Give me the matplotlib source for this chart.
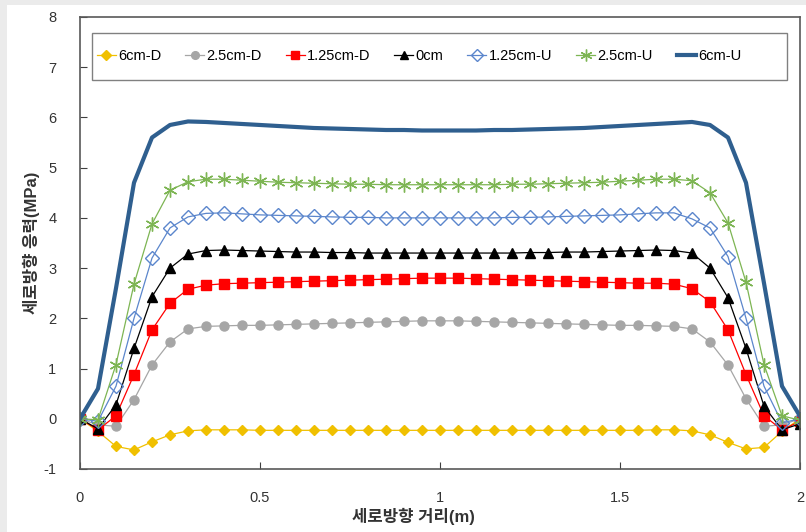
import matplotlib.pyplot as plt
from matplotlib.patches import Rectangle
import numpy as np

plt.rcParams['font.family'] = ['Liberation Sans', 'Noto Sans CJK KR', 'DejaVu Sans']
plt.rcParams['axes.unicode_minus'] = False

# distance (m), 0 .. 2 in 0.05 steps
dist = [0.0, 0.05, 0.1, 0.15, 0.2, 0.25, 0.3, 0.35, 0.4, 0.45, 0.5,
        0.55, 0.6, 0.65, 0.7, 0.75, 0.8, 0.85, 0.9, 0.95, 1.0,
        1.05, 1.1, 1.15, 1.2, 1.25, 1.3, 1.35, 1.4, 1.45, 1.5,
        1.55, 1.6, 1.65, 1.7, 1.75, 1.8, 1.85, 1.9, 1.95, 2.0]

d6 = [0.0, -0.25, -0.55, -0.62, -0.46, -0.32, -0.24, -0.22, -0.22, -0.22, -0.23,
      -0.23, -0.23, -0.23, -0.23, -0.23, -0.23, -0.23, -0.23, -0.23, -0.23,
      -0.23, -0.23, -0.23, -0.23, -0.23, -0.23, -0.23, -0.23, -0.23, -0.23,
      -0.23, -0.22, -0.22, -0.24, -0.32, -0.47, -0.6, -0.57, -0.25, 0.0]
d25 = [0.0, -0.12, -0.15, 0.38, 1.07, 1.53, 1.79, 1.84, 1.85, 1.86, 1.86,
       1.87, 1.88, 1.89, 1.9, 1.91, 1.92, 1.93, 1.94, 1.95, 1.95,
       1.95, 1.94, 1.93, 1.92, 1.91, 1.9, 1.89, 1.88, 1.87, 1.86,
       1.86, 1.85, 1.84, 1.79, 1.53, 1.07, 0.4, -0.15, -0.12, 0.0]
d125 = [0.0, -0.22, 0.06, 0.88, 1.77, 2.3, 2.58, 2.66, 2.69, 2.7, 2.71,
        2.72, 2.73, 2.74, 2.75, 2.76, 2.77, 2.78, 2.79, 2.8, 2.8,
        2.8, 2.79, 2.78, 2.77, 2.76, 2.75, 2.74, 2.73, 2.72, 2.71,
        2.7, 2.7, 2.68, 2.59, 2.33, 1.77, 0.88, 0.06, -0.22, -0.05]
c0 = [0.0, -0.2, 0.28, 1.4, 2.43, 3.0, 3.28, 3.35, 3.36, 3.35, 3.34,
      3.33, 3.32, 3.32, 3.31, 3.31, 3.3, 3.3, 3.3, 3.3, 3.3,
      3.3, 3.3, 3.3, 3.3, 3.31, 3.31, 3.32, 3.32, 3.33, 3.34,
      3.35, 3.36, 3.35, 3.3, 3.0, 2.41, 1.4, 0.25, -0.22, -0.1]
u125 = [0.0, -0.05, 0.65, 2.0, 3.2, 3.8, 4.02, 4.09, 4.1, 4.08, 4.06,
        4.05, 4.04, 4.03, 4.02, 4.01, 4.01, 4.0, 4.0, 4.0, 4.0,
        4.0, 4.0, 4.0, 4.01, 4.01, 4.02, 4.03, 4.04, 4.05, 4.06,
        4.08, 4.1, 4.1, 3.98, 3.8, 3.23, 2.0, 0.65, -0.08, 0.0]
u25 = [0.0, -0.02, 1.08, 2.68, 3.88, 4.55, 4.72, 4.77, 4.77, 4.75, 4.73,
       4.71, 4.7, 4.69, 4.68, 4.67, 4.67, 4.66, 4.66, 4.66, 4.66,
       4.66, 4.66, 4.66, 4.67, 4.67, 4.68, 4.69, 4.7, 4.71, 4.73,
       4.75, 4.77, 4.77, 4.74, 4.5, 3.9, 2.72, 1.08, 0.06, -0.03]
u6 = [0.0, 0.6, 2.6, 4.7, 5.6, 5.85, 5.92, 5.91, 5.89, 5.87, 5.85,
      5.83, 5.81, 5.79, 5.78, 5.77, 5.76, 5.75, 5.75, 5.74, 5.74,
      5.74, 5.74, 5.75, 5.75, 5.76, 5.77, 5.78, 5.79, 5.81, 5.83,
      5.85, 5.87, 5.89, 5.91, 5.85, 5.6, 4.7, 2.7, 0.65, 0.05]

fig = plt.figure(figsize=(8.06, 5.32), dpi=100, facecolor='#ebebeb')
fig.add_artist(Rectangle((7 / 806, 0), 1, 1 - 5 / 532, transform=fig.transFigure,
                         facecolor='white', edgecolor='none', zorder=-10))
ax = fig.add_axes([80 / 806, 1 - 469 / 532, 720 / 806, 452 / 532])

lw = 0.9
ax.plot(dist, d6, color='#F0C000', lw=lw, marker='D', ms=5.5, label='6cm-D')
ax.plot(dist, d25, color='#A6A6A6', lw=lw, marker='o', ms=6.5, label='2.5cm-D')
ax.plot(dist, d125, color='#FF0000', lw=lw, marker='s', ms=6.5, label='1.25cm-D')
ax.plot(dist, c0, color='#000000', lw=lw, marker='^', ms=7, label='0cm')
ax.plot(dist, u125, color='#5B86CC', lw=lw, marker='D', ms=7, mfc='none', mew=1.0,
        label='1.25cm-U')
ax.plot(dist, u25, color='#7DB553', lw=lw, marker=(6, 2, 0), ms=10, mew=1.0,
        label='2.5cm-U')
ax.plot(dist, u6, color='#2F5F8F', lw=3.0, label='6cm-U')

ax.set_xlim(0, 2)
ax.set_ylim(-1, 8)
ax.set_xticks([0, 0.5, 1, 1.5, 2])
ax.set_xticklabels(['0', '0.5', '1', '1.5', '2'])
ax.set_yticks(range(-1, 9))
ax.tick_params(axis='y', direction='in', length=5, pad=17, labelsize=10.5,
               colors='#404040', labelcolor='#333333')
ax.tick_params(axis='x', direction='in', length=5, pad=16, labelsize=10.5,
               colors='#404040', labelcolor='#333333')
for s in ax.spines.values():
    s.set_color('#595959')
    s.set_linewidth(1.2)

ax.set_xlabel('세로방향 거리(m)', fontsize=12, fontweight='bold', color='#333333')
ax.xaxis.set_label_coords(0.4625, -0.086)
ax.set_ylabel('세로방향 응력(MPa)', fontsize=12, fontweight='bold', color='#333333')
ax.yaxis.set_label_coords(-0.056, 0.5)

# legend box drawn separately so entries stay compact on the left
ax.add_patch(Rectangle((0.017, 0.861), 0.965, 0.104, transform=ax.transAxes,
                       facecolor='white', edgecolor='#808080', lw=1.0, zorder=5))
leg = ax.legend(loc='center left', ncol=7, frameon=False,
                bbox_to_anchor=(0.017, 0.913), borderaxespad=0, borderpad=0.3,
                fontsize=10.5, handlelength=1.3, handletextpad=0.15,
                columnspacing=1.65, markerscale=0.85)
leg.set_zorder(6)

fig.savefig('out.png', dpi=100, facecolor=fig.get_facecolor())
